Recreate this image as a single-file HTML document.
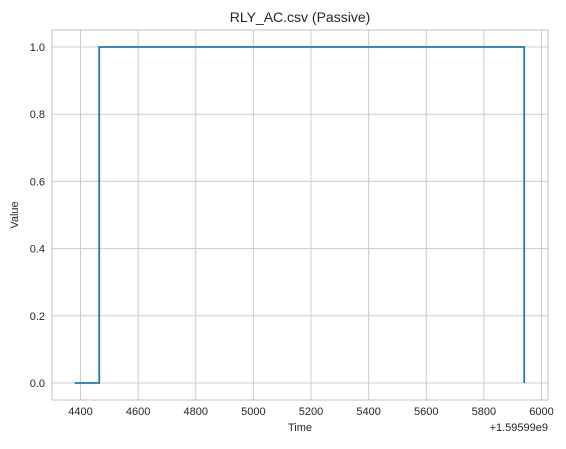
<!DOCTYPE html>
<html><head><meta charset="utf-8"><style>
body{margin:0;background:#fff;}
svg text{font-family:"Liberation Sans",sans-serif;fill:#262626;}
</style></head><body>
<svg id="chart" width="566" height="444"></svg>
<script>
const xTicks=[4400,4600,4800,5000,5200,5400,5600,5800,6000];
const yTicks=[0.0,0.2,0.4,0.6,0.8,1.0];
const times=[4380,4465,4465,5940,5940];
const values=[0,0,1,1,0];
const svg=document.getElementById('chart');
const NS='http://www.w3.org/2000/svg';
const L=52,R=548,T=30,B=400;
const xs=v=>80.5+(v-4400)*(541.5-80.5)/1600;
const ys=v=>383-v*(383-47);
function mk(t,a,p){const e=document.createElementNS(NS,t);for(const k in a)e.setAttribute(k,a[k]);(p||svg).appendChild(e);return e;}
const bg=mk('rect',{x:L,y:T,width:R-L,height:B-T,fill:'#fff'});


xTicks.forEach(v=>{
 const g=mk('line',{x1:xs(v),x2:xs(v),y1:T,y2:B,stroke:'#cccccc','stroke-width':1});
 
 
 const t=mk('text',{x:xs(v),y:B+15,'text-anchor':'middle','font-size':11});
 t.textContent=v;
 
 
});
yTicks.forEach(v=>{
 const g=mk('line',{x1:L,x2:R,y1:ys(v),y2:ys(v),stroke:'#cccccc','stroke-width':1});
 
 
 const t=mk('text',{x:L-7,y:ys(v)+4,'text-anchor':'end','font-size':11});
 t.textContent=v.toFixed(1);
 
 
});
const fr=mk('rect',{x:L,y:T,width:R-L,height:B-T,fill:'none',stroke:'#cccccc','stroke-width':1.2});


const pts=times.map((t,i)=>xs(t)+','+ys(values[i])).join(' ');
const ln=mk('polyline',{points:pts,fill:'none',stroke:'#1f77b4','stroke-width':1.8});


const title=mk('text',{x:300,y:22,'text-anchor':'middle','font-size':14});
title.textContent='RLY_AC.csv (Passive)';


const xl=mk('text',{x:300,y:431,'text-anchor':'middle','font-size':11});
xl.textContent='Time';


const off=mk('text',{x:548,y:431,'text-anchor':'end','font-size':11});
off.textContent='+1.59599e9';


const yl=mk('text',{x:18,y:215,'text-anchor':'middle','font-size':11,transform:'rotate(-90 18 215)'});
yl.textContent='Value';


</script>
</body></html>
